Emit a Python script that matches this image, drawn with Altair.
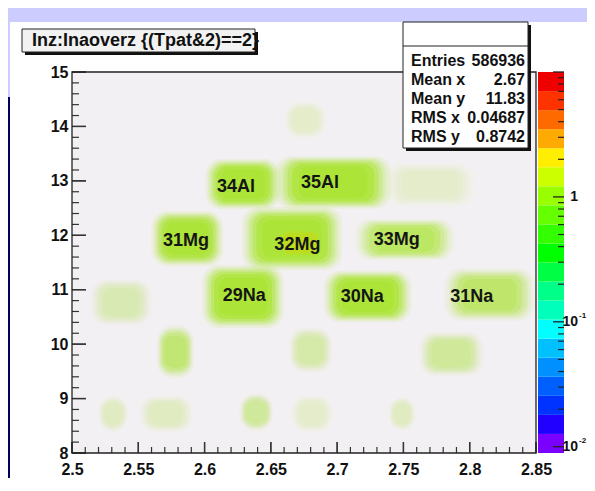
import altair as alt
import pandas as pd

FONT = "Liberation Sans Narrow, Arial Narrow, Liberation Sans, sans-serif"

# ---------------- data ----------------
# isotope blobs: centre (A/Q, Z), half extents and relative intensity
blob_x  = [2.629, 2.697, 2.587, 2.666, 2.751, 2.629, 2.723, 2.815,
           2.537, 2.578, 2.680, 2.786, 2.676, 2.770,
           2.531, 2.571, 2.639, 2.681, 2.749]
blob_z  = [12.94, 12.97, 11.94, 11.94, 11.92, 10.875, 10.875, 10.91,
           10.77, 9.86, 9.89, 9.82, 14.12, 12.93,
           8.72, 8.72, 8.75, 8.72, 8.72]
blob_dx = [0.024, 0.037, 0.023, 0.032, 0.032, 0.026, 0.028, 0.029,
           0.020, 0.012, 0.014, 0.021, 0.014, 0.030,
           0.010, 0.018, 0.011, 0.014, 0.009]
blob_dz = [0.39, 0.41, 0.43, 0.49, 0.32, 0.49, 0.40, 0.41,
           0.37, 0.42, 0.36, 0.35, 0.30, 0.35,
           0.30, 0.30, 0.30, 0.30, 0.28]
blob_w  = [1.0, 1.0, 0.95, 1.0, 0.55, 1.0, 1.0, 0.5,
           0.18, 0.45, 0.22, 0.28, 0.1, 0.1,
           0.13, 0.13, 0.28, 0.1, 0.13]

# hotter spot inside 32Mg
hot_x, hot_z, hot_dx, hot_dz = [2.672], [11.86], [0.012], [0.18]

iso_names = ["34Al", "35Al", "31Mg", "32Mg", "33Mg", "29Na", "30Na", "31Na"]
iso_x     = [2.6237, 2.687, 2.586, 2.670, 2.745, 2.630, 2.719, 2.8016]
iso_z     = [12.887, 12.96, 11.895, 11.82, 11.91, 10.885, 10.87, 10.87]

x_major = [2.5, 2.55, 2.6, 2.65, 2.7, 2.75, 2.8, 2.85]
y_major = [8, 9, 10, 11, 12, 13, 14, 15]

stat_names = ["Entries", "Mean x", "Mean y", "RMS x", "RMS y"]
stat_vals  = ["586936", "2.67", "11.83", "0.04687", "0.8742"]

title_text = "Inz:Inaoverz {(Tpat&2)==2}"

# colour-bar bands, bottom -> top
cb_colors = ["#7a00ff", "#2200ff", "#0033ff", "#0060ff", "#0090ff",
             "#00c0ff", "#00ffff", "#00ffbb", "#00ff88", "#00ff44",
             "#00ff00", "#33ff00", "#66ff00", "#99ff00", "#ccff00",
             "#ffee00", "#ffaa00", "#ff6a00", "#ff3300", "#ee0000"]
cb_base = ["1", "10", "10"]
cb_exp = ["", "-1", "-2"]
cb_label_v = [1.0, 0.1, 0.01]

# ---------------- helpers ----------------
W, H = 464, 381
XS = alt.Scale(domain=[2.5, 2.85], nice=False, zero=False)
YS = alt.Scale(domain=[8, 15], nice=False, zero=False)
ZS = alt.Scale(type="log", domain=[0.00891, 10], nice=False)
one = pd.DataFrame({"a": [0]})


def rect(x, x2, y, y2, **kw):
    return alt.Chart(one).mark_rect(**kw).encode(
        x=alt.value(x), x2=alt.value(x2), y=alt.value(y), y2=alt.value(y2))


def text(t, x, y, **kw):
    base = dict(font=FONT, fontWeight="bold", fontSize=16, color="#111")
    base.update(kw)
    return alt.Chart(one).mark_text(text=t, **base).encode(
        x=alt.value(x), y=alt.value(y))


def blob_layers(df, color, steps):
    out = []
    for k, op, rad in steps:
        out.append(
            alt.Chart(df).transform_calculate(
                x1=f"datum.x - datum.dx*{k}", x2=f"datum.x + datum.dx*{k}",
                y1=f"datum.z - datum.dz*{k}", y2=f"datum.z + datum.dz*{k}",
                o=f"datum.w*{op}",
            ).mark_rect(cornerRadius=rad, color=color).encode(
                x=alt.X("x1:Q", scale=XS, axis=None), x2="x2:Q",
                y=alt.Y("y1:Q", scale=YS, axis=None), y2="y2:Q",
                opacity=alt.Opacity("o:Q", scale=None),
            )
        )
    return out


layers = []
# slide background pieces
layers.append(rect(-62, 620, -50, 520, fill="#ffffff"))
layers.append(rect(-80, -62, 25, 520, fill="#00005e"))
# plot background
layers.append(rect(0, W, 0, H, fill="#f3f0f3"))

# ticks + axis labels (ROOT style, ticks inside the frame)
y_minor = [8 + 0.2 * i for i in range(36) if i % 5 != 0]
x_minor = [2.5 + 0.01 * i for i in range(36) if i % 5 != 0]
axis_style = dict(ticks=False, tickSize=0, domain=False, grid=False, title=None,
                  labelFont=FONT, labelFontWeight="bold", labelFontSize=16,
                  labelColor="#111", labelFlush=False, labelOverlap=False,
                  zindex=5)
layers.append(
    alt.Chart(pd.DataFrame({"v": x_major})).mark_rule(color="#333", strokeWidth=1.3).encode(
        x=alt.X("v:Q", scale=XS, axis=alt.Axis(values=x_major, format="~g", labelPadding=8,
                                               orient="bottom", **axis_style)),
        y=alt.value(H), y2=alt.value(H - 11))
)
layers.append(
    alt.Chart(pd.DataFrame({"v": y_major})).mark_rule(color="#333", strokeWidth=1.3).encode(
        y=alt.Y("v:Q", scale=YS, axis=alt.Axis(values=y_major, labelPadding=4,
                                               orient="left", **axis_style)),
        x=alt.value(0), x2=alt.value(14))
)

# blobs (soft edges by stacking)
blobs = pd.DataFrame({"x": blob_x, "z": blob_z, "dx": blob_dx,
                      "dz": blob_dz, "w": blob_w})
layers += blob_layers(blobs, "#a5e424", [
    (1.18, 0.10, 16), (1.11, 0.12, 15), (1.05, 0.16, 14), (1.0, 0.22, 13),
    (0.93, 0.35, 12), (0.84, 0.5, 11), (0.70, 0.45, 9)])
hot = pd.DataFrame({"x": hot_x, "z": hot_z, "dx": hot_dx, "dz": hot_dz, "w": [1.0]})
layers += blob_layers(hot, "#d8d200", [(1.2, 0.2, 8), (1.0, 0.3, 6)])

# isotope labels
iso = pd.DataFrame({"n": iso_names, "x": iso_x, "z": iso_z})
layers.append(
    alt.Chart(iso).mark_text(font=FONT, fontWeight="bold", fontSize=18,
                             color="#151515").encode(
        x=alt.X("x:Q", scale=XS, axis=None),
        y=alt.Y("z:Q", scale=YS, axis=None),
        text="n:N",
    )
)

layers.append(
    alt.Chart(pd.DataFrame({"v": y_minor})).mark_rule(color="#333", strokeWidth=1.2).encode(
        y=alt.Y("v:Q", scale=YS, axis=None), x=alt.value(0), x2=alt.value(7))
)
layers.append(
    alt.Chart(pd.DataFrame({"v": x_minor})).mark_rule(color="#333", strokeWidth=1.2).encode(
        x=alt.X("v:Q", scale=XS, axis=None), y=alt.value(H), y2=alt.value(H - 6))
)
# re-draw major ticks above blobs
layers.append(
    alt.Chart(pd.DataFrame({"v": y_major})).mark_rule(color="#333", strokeWidth=1.3).encode(
        y=alt.Y("v:Q", scale=YS, axis=None), x=alt.value(0), x2=alt.value(14))
)
layers.append(
    alt.Chart(pd.DataFrame({"v": x_major})).mark_rule(color="#333", strokeWidth=1.3).encode(
        x=alt.X("v:Q", scale=XS, axis=None), y=alt.value(H), y2=alt.value(H - 11))
)
# frame
layers.append(rect(0, W, 0, H, fillOpacity=0, stroke="#222", strokeWidth=1.3))

# colour bar
cb = pd.DataFrame({"i": list(range(len(cb_colors))), "c": cb_colors})
layers.append(
    alt.Chart(cb).transform_calculate(
        lo="pow(10, -2.05 + datum.i*0.1525)",
        hi="pow(10, -2.05 + (datum.i+1)*0.1525)",
    ).mark_rect().encode(
        x=alt.value(466), x2=alt.value(492),
        y=alt.Y("lo:Q", scale=ZS, axis=None), y2="hi:Q",
        color=alt.Color("c:N", scale=None),
    )
)
z_major = [0.01, 0.1, 1.0, 10.0]
z_minor = [m * 10 ** e for e in (-2, -1, 0) for m in range(2, 10)]
layers.append(
    alt.Chart(pd.DataFrame({"v": z_major})).mark_rule(color="#222", strokeWidth=1.3).encode(
        y=alt.Y("v:Q", scale=ZS, axis=None), x=alt.value(481), x2=alt.value(492))
)
layers.append(
    alt.Chart(pd.DataFrame({"v": z_minor})).mark_rule(color="#222", strokeWidth=1.2).encode(
        y=alt.Y("v:Q", scale=ZS, axis=None), x=alt.value(486), x2=alt.value(492))
)
cbl = pd.DataFrame({"t": cb_base, "e": cb_exp, "v": cb_label_v})
layers.append(
    alt.Chart(cbl).mark_text(
        font=FONT, fontWeight="bold", fontSize=14, color="#111", align="right",
        baseline="middle").encode(
        y=alt.Y("v:Q", scale=ZS, axis=None), x=alt.value(506), text="t:N")
)
layers.append(
    alt.Chart(cbl).mark_text(
        font=FONT, fontWeight="bold", fontSize=8, color="#111", align="left",
        baseline="middle", dy=-6).encode(
        y=alt.Y("v:Q", scale=ZS, axis=None), x=alt.value(507), text="e:N")
)

# title box
layers.append(rect(-47, 186, -40, -17, fill="#111"))
layers.append(rect(-50, 183, -43, -20, fill="#f2f2f2", stroke="#222", strokeWidth=1))
layers.append(text(title_text, -40, -31, fontSize=18, align="left", baseline="middle"))

# stats box
layers.append(rect(334, 459, -47, 79, fill="#111"))
layers.append(rect(331, 456, -50, 76, fill="#ffffff", stroke="#222", strokeWidth=1))
layers.append(alt.Chart(one).mark_rule(color="#222", strokeWidth=1).encode(
    x=alt.value(331), x2=alt.value(456), y=alt.value(-26)))
row_y = [-11, 8, 27, 46, 65]
for nm, val, yy in zip(stat_names, stat_vals, row_y):
    layers.append(text(nm, 339, yy, align="left", baseline="middle"))
    layers.append(text(val, 453, yy, align="right", baseline="middle"))

chart = alt.layer(*layers).resolve_scale(x="independent", y="independent").properties(
    width=W, height=H,
    autosize=alt.AutoSizeParams(type="none"),
    padding={"left": 64, "top": 64, "right": 51, "bottom": 25},
    background="#ccccff",
).configure_view(stroke=None)

chart.save("out.html", embed_options={"renderer": "svg", "actions": False})
